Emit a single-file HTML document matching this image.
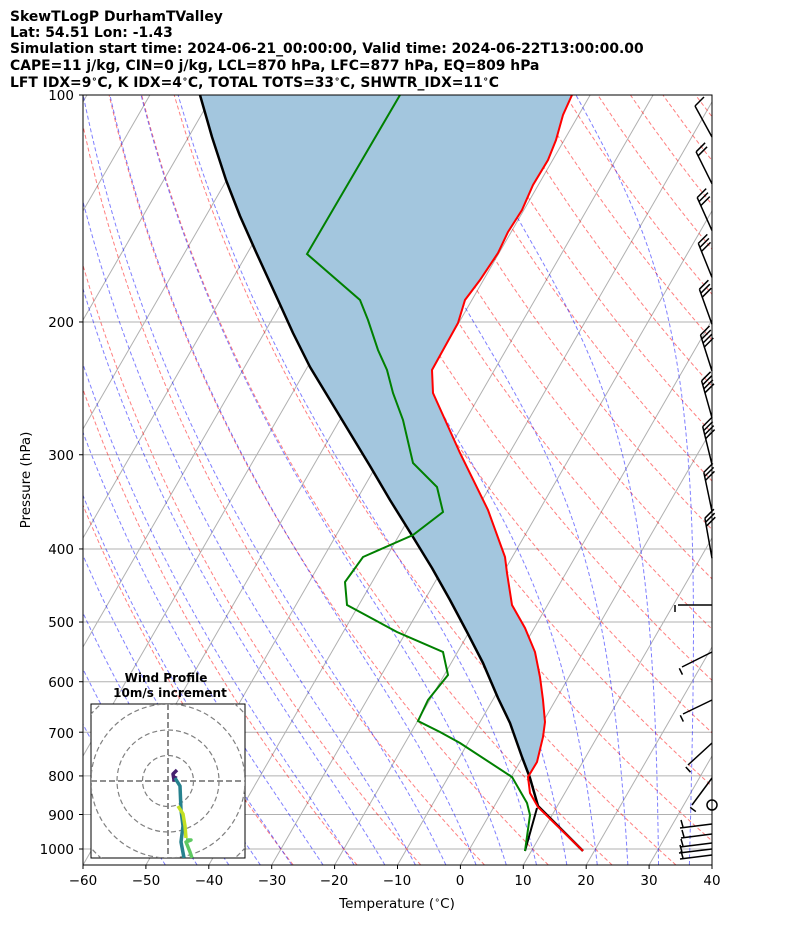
<!DOCTYPE html>
<html><head><meta charset="utf-8">
<style>
body{margin:0;background:#fff;}
svg{display:block;font-family:"DejaVu Sans","Liberation Sans",sans-serif;}
</style></head>
<body>
<svg id="s" width="794" height="937" viewBox="0 0 794 937" xmlns="http://www.w3.org/2000/svg">
<defs><clipPath id="cp"><rect x="83" y="95" width="629" height="770"/></clipPath>
<clipPath id="hc"><rect x="91" y="704" width="154" height="154"/></clipPath></defs>
<rect width="794" height="937" fill="#fff"/>
<g font-size="13.9" font-weight="bold" fill="#000" style="white-space:pre">
<text x="10" y="21">SkewTLogP DurhamTValley</text>
<text x="10" y="37">Lat: 54.51   Lon: -1.43</text>
<text x="10" y="53">Simulation start time: 2024-06-21_00:00:00, Valid time: 2024-06-22T13:00:00.00</text>
<text x="10" y="70">CAPE=11 j/kg, CIN=0 j/kg, LCL=870 hPa, LFC=877 hPa, EQ=809 hPa</text>
<text x="10" y="87">LFT IDX=9<tspan font-size="9.5" dy="-5">∘</tspan><tspan dy="5">C, K IDX=4</tspan><tspan font-size="9.5" dy="-5">∘</tspan><tspan dy="5">C, TOTAL TOTS=33</tspan><tspan font-size="9.5" dy="-5">∘</tspan><tspan dy="5">C, SHWTR_IDX=11</tspan><tspan font-size="9.5" dy="-5">∘</tspan><tspan dy="5">C</tspan></text>
</g>
<g id="bg" clip-path="url(#cp)"></g>
<g id="fg" clip-path="url(#cp)"></g>
<g id="barbs" stroke="#000" stroke-width="1.5" fill="none"></g>
<rect x="83" y="95" width="629" height="770" fill="none" stroke="#000" stroke-width="1"/>
<g font-size="13.5" fill="#000" text-anchor="end">
<text x="74" y="100">100</text><text x="74" y="327">200</text><text x="74" y="460">300</text>
<text x="74" y="554">400</text><text x="74" y="627">500</text><text x="74" y="687">600</text>
<text x="74" y="738">700</text><text x="74" y="781">800</text><text x="74" y="820">900</text>
<text x="74" y="854">1000</text>
</g>
<g font-size="13.5" fill="#000" text-anchor="middle">
<text x="83" y="885">−60</text><text x="146" y="885">−50</text><text x="209" y="885">−40</text>
<text x="272" y="885">−30</text><text x="334" y="885">−20</text><text x="397" y="885">−10</text>
<text x="460" y="885">0</text><text x="523" y="885">10</text><text x="586" y="885">20</text>
<text x="649" y="885">30</text><text x="712" y="885">40</text>
<text x="397" y="908">Temperature (<tspan font-size="9.5" dy="-5">∘</tspan><tspan dy="5">C)</tspan></text>
</g>
<text x="30" y="480" font-size="13.5" text-anchor="middle" transform="rotate(-90 30 480)">Pressure (hPa)</text>
<g id="ticks" stroke="#000" stroke-width="1"></g>
<g id="hodo"></g>
<g font-size="12" font-weight="bold" text-anchor="middle"><text x="166" y="682">Wind Profile</text><text x="170" y="697">10m/s increment</text></g>
</svg>
<script>
var NS="http://www.w3.org/2000/svg";
function el(p,t,a){var e=document.createElementNS(NS,t);for(var k in a)e.setAttribute(k,a[k]);p.appendChild(e);return e;}
function Y(p){return 95+(Math.log10(p)-2)*754;}
function X(T,p){return 83+(T+60)*6.29+(865-Y(p))*0.577;}
var bg=document.getElementById('bg'),fg=document.getElementById('fg');
[100,200,300,400,500,600,700,800,900,1000].forEach(function(p){var y=Y(p);el(bg,'line',{x1:83,x2:712,y1:y,y2:y,stroke:'#b0b0b0','stroke-width':1});});
for(var T=-200;T<=40;T+=10){el(bg,'line',{x1:X(T,1050),y1:865,x2:X(T,100),y2:95,stroke:'#b0b0b0','stroke-width':1});}
function pts(arr){return arr.map(function(a){return a[0].toFixed(1)+','+a[1].toFixed(1);}).join(' ');}
for(var t0=-30;t0<=200;t0+=10){var a=[];for(var p=1050;p>=100;p-=10){var T=(t0+273.15)*Math.pow(p/1000,0.2857)-273.15;a.push([X(T,p),Y(p)]);}
el(bg,'polyline',{points:pts(a),fill:'none',stroke:'#ff0000','stroke-opacity':0.5,'stroke-width':1,'stroke-dasharray':'4,2.5'});}
function es(T){return 6.112*Math.exp(17.67*(T-273.15)/(T-29.65));}
function dTdp(T,p){var e=es(T),rs=0.622*e/(p-e);return (287.04*T+2.501e6*rs)/(p*(1005.7+2.501e6*2.501e6*rs*0.622/(287.04*T*T)));}
for(var t0=-50;t0<=45;t0+=5){var up=[],T=t0+273.15,p=1000,h=-2;
 while(p>100){var k1=dTdp(T,p),k2=dTdp(T+h*k1/2,p+h/2),k3=dTdp(T+h*k2/2,p+h/2),k4=dTdp(T+h*k3,p+h);T+=h*(k1+2*k2+2*k3+k4)/6;p+=h;up.push([X(T-273.15,p),Y(p)]);}
 var dn=[],T2=t0+273.15,p2=1000;dn.push([X(t0,1000),Y(1000)]);while(p2<1050){T2+=2*dTdp(T2,p2);p2+=2;dn.unshift([X(T2-273.15,p2),Y(p2)]);}
 el(bg,'polyline',{points:pts(dn.concat(up)),fill:'none',stroke:'#0000ff','stroke-opacity':0.5,'stroke-width':1,'stroke-dasharray':'4,2.5'});}
var red=[[583,851],[538,807],[530,793],[528,777],[537,762],[543,737],[545,722],[543,700],[540,677],[535,652],[525,628],[512,605],[507,573],[505,557],[488,510],[460,453],[442,413],[433,393],[432,370],[458,323],[465,300],[480,280],[498,253],[508,232],[522,210],[533,185],[548,160],[556,140],[563,115],[572,95]];
var blk=[[530,778],[522,757],[510,723],[498,698],[483,663],[467,632],[450,600],[432,568],[413,537],[390,500],[370,466],[350,433],[330,400],[310,367],[293,333],[278,300],[256,252],[240,216],[226,180],[212,137],[200,95]];
var shade=red.slice(2).concat(blk.slice().reverse());
el(fg,'polygon',{points:pts(shade),fill:'#a3c6de',stroke:'none'});
el(fg,'polyline',{points:pts([[583,851],[538,806],[530,778]].concat(blk)),fill:'none',stroke:'#000','stroke-width':2.5,'stroke-linejoin':'round'});
el(fg,'polyline',{points:pts([[525,851],[537,808]]),fill:'none',stroke:'#000','stroke-width':2});
var grn=[[525,851],[530,815],[527,803],[512,777],[460,743],[440,732],[418,721],[428,700],[448,675],[443,652],[397,632],[347,605],[345,582],[363,557],[413,535],[443,512],[437,487],[413,463],[403,420],[393,393],[387,370],[378,350],[368,320],[360,300],[307,254],[400,95]];
el(fg,'polyline',{points:pts(grn),fill:'none',stroke:'#008000','stroke-width':2});
el(fg,'polyline',{points:pts(red),fill:'none',stroke:'#ff0000','stroke-width':2});
var tk=document.getElementById('ticks');
[100,200,300,400,500,600,700,800,900,1000].forEach(function(p){var y=Y(p);el(tk,'line',{x1:79,x2:83,y1:y,y2:y});});
for(var T=-60;T<=40;T+=10){var x=83+(T+60)*6.29;el(tk,'line',{x1:x,x2:x,y1:865,y2:869});}
var bb=document.getElementById('barbs');
var nf=[1,2,3,3,3,4,4,4,3,3];
for(var i=0;i<10;i++){var yb=137+46.8*i,tx=695+i*1.1,ty=yb-31-i*1;el(bb,'line',{x1:712,y1:yb,x2:tx,y2:ty});
 for(var j=0;j<nf[i];j++){var f=j*4/(yb-ty);var fx=tx+f*(712-tx),fy=ty+j*4;el(bb,'line',{x1:fx,y1:fy,x2:fx+9,y2:fy-9});}}
var low=[[712,605,678,605],[712,652,682,667],[712,700,683,714],[712,743,688,765],[712,778,692,805]];
low.forEach(function(l){el(bb,'line',{x1:l[0],y1:l[1],x2:l[2],y2:l[3]});var dx=l[2]-l[0],dy=l[3]-l[1],L=Math.hypot(dx,dy);el(bb,'line',{x1:l[2]+dx/L*3,y1:l[3]+dy/L*3,x2:l[2]+dx/L*3+dy/L*7,y2:l[3]+dy/L*3-dx/L*7});});
el(bb,'circle',{cx:712,cy:805,r:5});
[[826,680],[836,681],[845,680],[851,679],[857,680]].forEach(function(b){var y=b[0];el(bb,'line',{x1:712,y1:y-2,x2:b[1],y2:y+2});el(bb,'line',{x1:b[1]+3,y1:y+1,x2:b[1]+1,y2:y-6});});
var hd=document.getElementById('hodo');
el(hd,'rect',{x:91,y:704,width:154,height:154,fill:'#fff',stroke:'#000','stroke-width':1});
var hg=el(hd,'g',{'clip-path':'url(#hc)'});
[25.5,51,77,102].forEach(function(r){el(hg,'circle',{cx:168,cy:781,r:r,fill:'none',stroke:'#808080','stroke-width':1.2,'stroke-dasharray':'5,3'});});
el(hg,'line',{x1:91,x2:245,y1:781,y2:781,stroke:'#808080','stroke-width':1.8,'stroke-dasharray':'6,3'});
el(hg,'line',{x1:168,x2:168,y1:704,y2:858,stroke:'#808080','stroke-width':1.8,'stroke-dasharray':'6,3'});
function hl(p,c){el(hg,'polyline',{points:pts(p),fill:'none',stroke:c,'stroke-width':3.5,'stroke-linejoin':'round'});}
hl([[177,770],[173,774],[174,780],[176,776]],'#46206f');
hl([[175,778],[180,786],[181,810],[183,826],[181,842],[184,858]],'#26818e');
hl([[178,806],[183,814],[185,826],[186,838]],'#c2df23');
hl([[186,840],[191,840],[186,842],[190,852],[192,858]],'#5ec962');
</script>
</body></html>
